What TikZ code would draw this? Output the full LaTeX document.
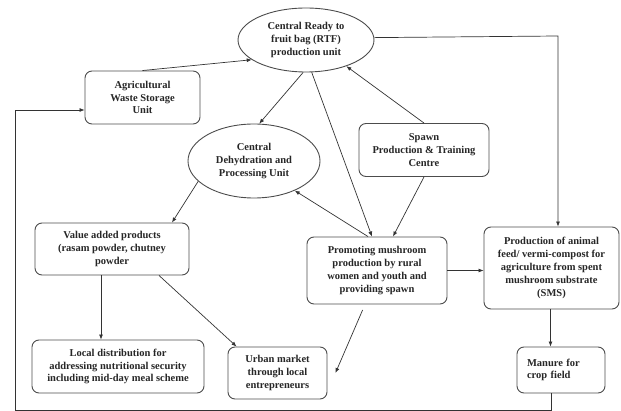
\documentclass[tikz,border=0pt]{standalone}
\usepackage{fontspec}
\setmainfont{Liberation Serif}
\usetikzlibrary{shapes.geometric,arrows.meta}
\begin{document}
\begin{tikzpicture}[x=1pt,y=-1pt,
  txt/.style={font=\bfseries\fontsize{10.5}{12.8}\selectfont, text=black!85},
  box/.style={txt, draw=black!70, line width=0.9pt, rounded corners=7pt, align=center, inner sep=1pt},
  ell/.style={txt, draw=black!70, line width=0.9pt, ellipse, align=center, inner sep=0pt},
  arr/.style={draw=black!80, line width=0.7pt, -{Latex[length=5pt,width=4pt]}},
  ln/.style={draw=black!80, line width=0.7pt}]
\useasboundingbox (0,0) rectangle (621,411);

\node[ell, minimum width=136pt, minimum height=64pt] (rtf) at (306,40) {Central Ready to\\fruit bag (RTF)\\production unit};
\node[box, minimum width=115pt, minimum height=53pt] (agri) at (142.5,97.5) {Agricultural\\Waste Storage\\Unit};
\node[ell, minimum width=132pt, minimum height=74pt] (dehy) at (254,161) {Central\\Dehydration and\\Processing Unit};
\node[box, minimum width=130pt, minimum height=53pt] (spawn) at (424,150) {Spawn\\Production \& Training\\Centre};
\node[box, minimum width=154pt, minimum height=52pt] (value) at (112,249) {Value added products\\(rasam powder, chutney\\powder};
\node[box, minimum width=140pt, minimum height=67pt] (prom) at (377,270.5) {Promoting mushroom\\production by rural\\women and youth and\\providing spawn};
\node[box, minimum width=135pt, minimum height=82pt] (feed) at (551.5,268) {Production of animal\\feed/ vermi-compost for\\agriculture from spent\\mushroom substrate\\(SMS)};
\node[box, minimum width=88pt, minimum height=46pt, align=left, text width=68pt, inner xsep=10pt] (manure) at (561,370) {Manure for\\crop field};
\node[box, minimum width=172pt, minimum height=53pt] (local) at (118,366.5) {Local distribution for\\addressing nutritional security\\including mid-day meal scheme};
\node[box, minimum width=99pt, minimum height=52pt] (urban) at (277.5,373) {Urban market\\through local\\entrepreneurs};

\coordinate (c1) at (558,36);
\coordinate (fb1) at (551,410);
\coordinate (fb2) at (15,410);
\coordinate (agriin) at ([yshift=-12.5pt]agri.west);

\draw[arr] (agri.north) -- (rtf.200);
\draw[arr] (rtf.265) -- (dehy.82);
\draw[arr] (rtf.280) -- ([xshift=-5pt]prom.north);
\draw[arr] (spawn.north) -- (rtf.-33);
\draw[arr] (spawn.south) -- ([xshift=16pt]prom.north);
\draw[arr] ([xshift=-9pt]prom.north) -- (dehy.-36);
\draw[arr] (dehy.200) -- ([xshift=60pt]value.north);
\draw[arr] (rtf.2) -- (c1) -- (c1 |- feed.north);
\draw[arr] (prom.east) -- (prom.east -| feed.west);
\draw[arr] ([xshift=-1pt]feed.south) -- ([xshift=-1pt]feed.south |- manure.north);
\draw[arr] ([xshift=-11pt]value.south) -- ([xshift=-11pt]value.south |- local.north);
\draw[arr] ([xshift=47pt]value.south) -- ([xshift=9pt]urban.north west);
\draw[arr, shorten <=6pt] ([xshift=-12pt]prom.south) -- ([xshift=8pt]urban.east);
\draw[arr] (manure.south -| fb1) -- (fb1) -- (fb2) -- (fb2 |- agriin) -- (agriin);
\end{tikzpicture}
\end{document}
